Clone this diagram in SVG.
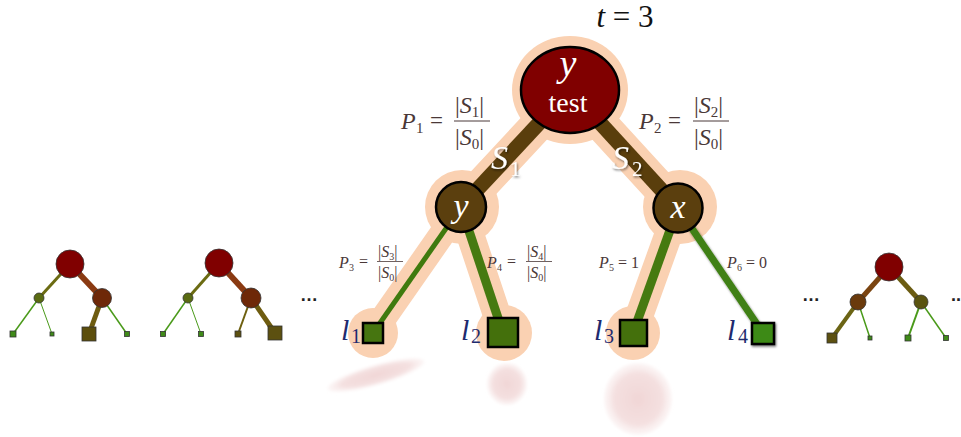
<svg xmlns="http://www.w3.org/2000/svg" width="961" height="437" viewBox="0 0 961 437">
<defs>
<style>
.m{font-family:"Liberation Serif","DejaVu Serif",serif;font-style:italic}
.r{font-family:"Liberation Serif","DejaVu Serif",serif}
.lbl{fill:#4a3838}
.leafl{fill:#1e2a6e}
.glow{fill:#fad1b2}
.gl{stroke:#fad1b2;stroke-linecap:round;fill:none}
.blk{stroke:#000;stroke-width:2.5}
.sm{stroke:#333;stroke-width:0.8}
.dots{font-family:"Liberation Sans",sans-serif;font-size:18px;font-weight:bold;fill:#222}
</style>
<radialGradient id="pink" cx="0.5" cy="0.5" r="0.5">
<stop offset="0" stop-color="#f1d6d6"/>
<stop offset="0.7" stop-color="#f4e0e0"/>
<stop offset="1" stop-color="#f8eaea" stop-opacity="0.4"/>
</radialGradient>
<filter id="sh" x="-30%" y="-30%" width="160%" height="160%">
<feDropShadow dx="1" dy="1.5" stdDeviation="1.2" flood-color="#000" flood-opacity="0.55"/>
</filter>
<filter id="blur1"><feGaussianBlur stdDeviation="1.5"/></filter>
</defs>
<rect width="961" height="437" fill="#fff"/>

<!-- bottom blobs -->
<g id="blobs">
<ellipse cx="376" cy="375" rx="50" ry="10" transform="rotate(-16 376 375)" fill="url(#pink)" filter="url(#blur1)"/>
<ellipse cx="507" cy="384" rx="20" ry="21" fill="url(#pink)" filter="url(#blur1)"/>
<ellipse cx="638" cy="399" rx="34" ry="36" fill="url(#pink)" filter="url(#blur1)"/>
</g>

<!-- glows -->
<g id="glows">
<line class="gl" x1="570" y1="90" x2="461" y2="207" stroke-width="34"/>
<line class="gl" x1="570" y1="90" x2="678" y2="208" stroke-width="34"/>
<line class="gl" x1="461" y1="207" x2="373" y2="333" stroke-width="26"/>
<line class="gl" x1="461" y1="207" x2="503" y2="333" stroke-width="28"/>
<line class="gl" x1="678" y1="208" x2="633" y2="333" stroke-width="28"/>
<ellipse class="glow" cx="570" cy="90" rx="58" ry="54"/>
<circle class="glow" cx="462" cy="207" r="37"/>
<circle class="glow" cx="680" cy="207" r="37"/>
<circle class="glow" cx="373" cy="333" r="25"/>
<circle class="glow" cx="504" cy="333" r="28"/>
<circle class="glow" cx="633" cy="333" r="27"/>
</g>

<!-- connectors -->
<g id="connectors">
<line x1="570" y1="90" x2="461" y2="207" stroke="#5a3e0c" stroke-width="15"/>
<line x1="570" y1="90" x2="678" y2="208" stroke="#5a3e0c" stroke-width="15"/>
<line x1="461" y1="207" x2="373" y2="333" stroke="#3f7a0e" stroke-width="5"/>
<line x1="461" y1="207" x2="503" y2="333" stroke="#467a10" stroke-width="9"/>
<line x1="678" y1="208" x2="633" y2="333" stroke="#467a10" stroke-width="9"/>
<line x1="678" y1="208" x2="763" y2="333" stroke="#3f8012" stroke-width="7" filter="url(#sh)"/>
</g>

<g id="root">
<ellipse cx="570" cy="90" rx="49" ry="43" fill="#800000" stroke="#000" stroke-width="2.5"/>
<text class="m" x="568" y="76" font-size="38" fill="#fff" text-anchor="middle">y</text>
<text class="r" x="568" y="112" font-size="28" fill="#fff" text-anchor="middle">test</text>
</g>
<g id="nodeY">
<circle cx="461" cy="207" r="25" fill="#5b3f0e" stroke="#000" stroke-width="2.5"/>
<text class="m" x="461" y="217" font-size="34" fill="#fff" text-anchor="middle">y</text>
</g>
<g id="nodeX">
<circle cx="678" cy="208" r="24.5" fill="#5b3f0e" stroke="#000" stroke-width="2.5"/>
<text class="m" x="678" y="218" font-size="34" fill="#fff" text-anchor="middle">x</text>
</g>

<g id="leaf1">
<rect class="blk" x="363" y="323" width="20" height="20" fill="#467510"/>
<text class="m leafl" x="341" y="340" font-size="30">l</text>
<text class="r leafl" x="351" y="343" font-size="20">1</text>
</g>
<g id="leaf2">
<rect class="blk" x="488" y="318" width="30" height="29" fill="#44700c"/>
<text class="m leafl" x="461" y="340" font-size="30">l</text>
<text class="r leafl" x="471" y="343" font-size="20">2</text>
</g>
<g id="leaf3">
<rect class="blk" x="620" y="320" width="27" height="26" fill="#44700c"/>
<text class="m leafl" x="594" y="340" font-size="30">l</text>
<text class="r leafl" x="604" y="343" font-size="20">3</text>
</g>
<g id="leaf4">
<rect class="blk" x="752" y="323" width="22" height="21" fill="#3e8a14" filter="url(#sh)"/>
<text class="m leafl" x="727" y="340" font-size="30">l</text>
<text class="r leafl" x="738" y="343" font-size="20">4</text>
</g>

<!-- labels -->
<g id="t3"><text x="625" y="27" font-size="31" class="r" fill="#111" text-anchor="middle"><tspan class="m">t</tspan> = 3</text></g>

<g id="P1" class="lbl">
<text class="m" x="401" y="129" font-size="24">P</text>
<text class="r" x="416" y="133" font-size="15">1</text>
<text class="r" x="430" y="128" font-size="23">=</text>
<text class="r" x="455" y="113" font-size="24">|<tspan class="m">S</tspan><tspan font-size="15" dy="4">1</tspan><tspan dy="-4">|</tspan></text>
<line x1="454" y1="121" x2="490" y2="121" stroke="#4a3838" stroke-width="1"/>
<text class="r" x="455" y="145" font-size="24">|<tspan class="m">S</tspan><tspan font-size="15" dy="4">0</tspan><tspan dy="-4">|</tspan></text>
</g>
<g id="P2" class="lbl">
<text class="m" x="639" y="129" font-size="24">P</text>
<text class="r" x="654" y="133" font-size="15">2</text>
<text class="r" x="668" y="128" font-size="23">=</text>
<text class="r" x="694" y="113" font-size="24">|<tspan class="m">S</tspan><tspan font-size="15" dy="4">2</tspan><tspan dy="-4">|</tspan></text>
<line x1="693" y1="121" x2="729" y2="121" stroke="#4a3838" stroke-width="1"/>
<text class="r" x="694" y="145" font-size="24">|<tspan class="m">S</tspan><tspan font-size="15" dy="4">0</tspan><tspan dy="-4">|</tspan></text>
</g>

<g id="P3" class="lbl">
<text class="m" x="339" y="268" font-size="16">P</text>
<text class="r" x="349" y="271" font-size="10">3</text>
<text class="r" x="359" y="267" font-size="16">=</text>
<text class="r" x="378" y="257" font-size="16">|<tspan class="m">S</tspan><tspan font-size="10" dy="3">3</tspan><tspan dy="-3">|</tspan></text>
<line x1="377" y1="261.5" x2="403" y2="261.5" stroke="#4a3838" stroke-width="0.8"/>
<text class="r" x="378" y="278" font-size="16">|<tspan class="m">S</tspan><tspan font-size="10" dy="3">0</tspan><tspan dy="-3">|</tspan></text>
</g>
<g id="P4" class="lbl">
<text class="m" x="487" y="268" font-size="16">P</text>
<text class="r" x="497" y="271" font-size="10">4</text>
<text class="r" x="507" y="267" font-size="16">=</text>
<text class="r" x="527" y="257" font-size="16">|<tspan class="m">S</tspan><tspan font-size="10" dy="3">4</tspan><tspan dy="-3">|</tspan></text>
<line x1="526" y1="261.5" x2="552" y2="261.5" stroke="#4a3838" stroke-width="0.8"/>
<text class="r" x="527" y="278" font-size="16">|<tspan class="m">S</tspan><tspan font-size="10" dy="3">0</tspan><tspan dy="-3">|</tspan></text>
</g>
<g id="P5" class="lbl">
<text class="m" x="599" y="268" font-size="16">P</text>
<text class="r" x="609" y="271" font-size="10">5</text>
<text class="r" x="618" y="268" font-size="16">= 1</text>
</g>
<g id="P6" class="lbl">
<text class="m" x="727" y="268" font-size="16">P</text>
<text class="r" x="737" y="271" font-size="10">6</text>
<text class="r" x="746" y="268" font-size="16">= 0</text>
</g>

<g id="S1" filter="url(#sh)" fill="#fff">
<text class="m" x="491" y="169" font-size="34">S</text>
<text class="r" x="510" y="176" font-size="21">1</text>
</g>
<g id="S2" filter="url(#sh)" fill="#fff">
<text class="m" x="612" y="169" font-size="34">S</text>
<text class="r" x="632" y="176" font-size="21">2</text>
</g>

<!-- small tree 1 -->
<g id="tree1">
<line x1="70" y1="264" x2="39" y2="298" stroke="#6b6b12" stroke-width="3"/>
<line x1="70" y1="264" x2="102" y2="298" stroke="#8a3a12" stroke-width="6"/>
<line x1="39" y1="298" x2="13" y2="334" stroke="#4a9a1a" stroke-width="1.5"/>
<line x1="39" y1="298" x2="52" y2="334" stroke="#4a9a1a" stroke-width="1"/>
<line x1="102" y1="298" x2="89" y2="334" stroke="#6e5c10" stroke-width="5"/>
<line x1="102" y1="298" x2="127" y2="334" stroke="#4a9a1a" stroke-width="1.5"/>
<circle class="sm" cx="70" cy="264" r="14" fill="#800000"/>
<circle class="sm" cx="39" cy="298" r="5" fill="#5a6b12"/>
<circle class="sm" cx="102" cy="298" r="9.5" fill="#6e2808"/>
<rect class="sm" x="10" y="331" width="6" height="6" fill="#3f8a18"/>
<rect class="sm" x="50" y="332" width="4" height="4" fill="#3f8a18"/>
<rect class="sm" x="82" y="327" width="14" height="14" fill="#5c4e0c"/>
<rect class="sm" x="124.5" y="331.5" width="5" height="5" fill="#3f8a18"/>
</g>
<!-- small tree 2 -->
<g id="tree2">
<line x1="219" y1="263" x2="188" y2="298" stroke="#6b6b12" stroke-width="3"/>
<line x1="219" y1="263" x2="251" y2="298" stroke="#8a3a12" stroke-width="6"/>
<line x1="188" y1="298" x2="163" y2="334" stroke="#4a9a1a" stroke-width="1.5"/>
<line x1="188" y1="298" x2="201" y2="334" stroke="#4a9a1a" stroke-width="1"/>
<line x1="251" y1="298" x2="238" y2="334" stroke="#6e6010" stroke-width="2"/>
<line x1="251" y1="298" x2="275" y2="333" stroke="#6e5c10" stroke-width="5"/>
<circle class="sm" cx="219" cy="263" r="14" fill="#800000"/>
<circle class="sm" cx="188" cy="298" r="5" fill="#5a6b12"/>
<circle class="sm" cx="251" cy="298" r="10" fill="#6e2808"/>
<rect class="sm" x="160.5" y="331.5" width="5" height="5" fill="#3f8a18"/>
<rect class="sm" x="198.5" y="331.5" width="5" height="5" fill="#3f8a18"/>
<rect class="sm" x="235" y="331" width="6" height="6" fill="#5c5010"/>
<rect class="sm" x="268" y="326" width="14" height="14" fill="#5c5010"/>
</g>
<text class="dots" x="300" y="301">…</text>
<!-- small tree 3 -->
<g id="tree3">
<line x1="889" y1="267" x2="858" y2="302" stroke="#7a4410" stroke-width="5"/>
<line x1="889" y1="267" x2="921" y2="302" stroke="#6b5c12" stroke-width="5"/>
<line x1="858" y1="302" x2="832" y2="338" stroke="#6b6414" stroke-width="4"/>
<line x1="858" y1="302" x2="870" y2="338" stroke="#4a9a1a" stroke-width="1.5"/>
<line x1="921" y1="302" x2="908" y2="338" stroke="#4a9a1a" stroke-width="2"/>
<line x1="921" y1="302" x2="946" y2="338" stroke="#4a9a1a" stroke-width="1.5"/>
<circle class="sm" cx="889" cy="267" r="14" fill="#800000"/>
<circle class="sm" cx="858" cy="302" r="8" fill="#6a3a0c"/>
<circle class="sm" cx="921" cy="302" r="7" fill="#5a5410"/>
<rect class="sm" x="827" y="333" width="10" height="10" fill="#5c5010"/>
<rect class="sm" x="868" y="336" width="4" height="4" fill="#3f8a18"/>
<rect class="sm" x="905" y="335" width="6" height="6" fill="#3f8a18"/>
<rect class="sm" x="943.5" y="335.5" width="5" height="5" fill="#3f8a18"/>
</g>
<text class="dots" x="802" y="301">…</text>
<text class="dots" x="951" y="301">..</text>
</svg>
